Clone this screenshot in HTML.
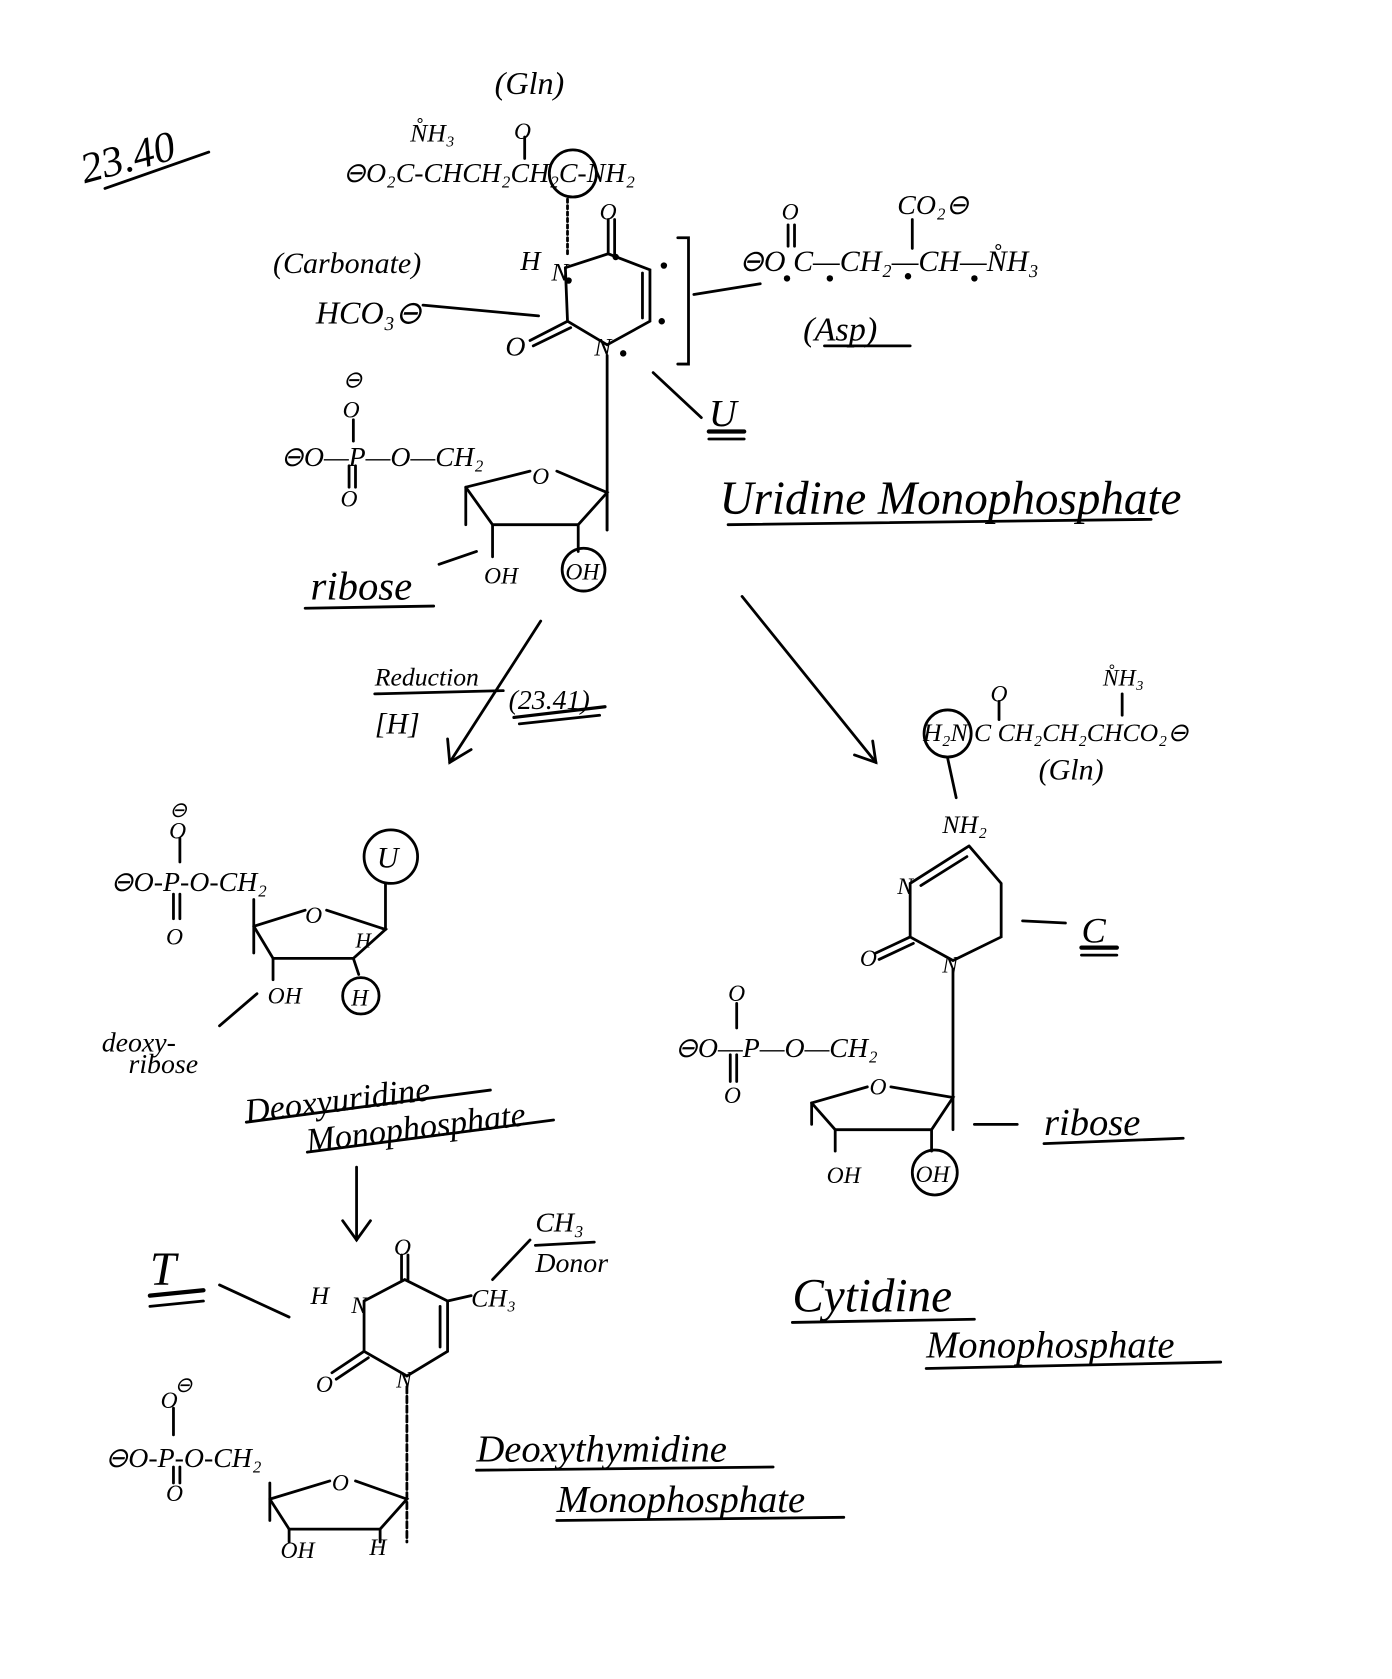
<!DOCTYPE html>
<html><head><meta charset="utf-8"><style>
html,body{margin:0;padding:0;background:#fff}
svg{display:block}
text{font-family:"Liberation Serif",serif;font-style:italic;fill:#000}
</style></head><body>
<svg width="1392" height="1679" viewBox="0 0 1300 1568" preserveAspectRatio="none" xmlns="http://www.w3.org/2000/svg">
<g stroke="#000" stroke-width="2.6" fill="none" stroke-linecap="round">
<!-- 23.40 -->
<line x1="98" y1="176" x2="195" y2="142"/>
<!-- Gln top -->
<line x1="490" y1="128" x2="490" y2="148"/>
<circle cx="535" cy="162" r="22"/>
<line x1="530" y1="186" x2="530" y2="240" stroke-dasharray="3,3"/>
<!-- uracil ring -->
<polyline points="528,250 568,237 607,252 607,300 567,322 530,300 528,250"/>
<line x1="600" y1="255" x2="600" y2="297"/>
<line x1="568" y1="237" x2="568" y2="205"/><line x1="574" y1="237" x2="574" y2="205"/>
<line x1="530" y1="300" x2="495" y2="318"/><line x1="533" y1="306" x2="498" y2="323"/>
<polyline points="633,222 643,222 643,340 633,340"/>
<line x1="648" y1="275" x2="710" y2="265"/>
<line x1="395" y1="285" x2="503" y2="295"/>
<line x1="567" y1="332" x2="567" y2="495"/>
<line x1="610" y1="348" x2="655" y2="390"/>
<line x1="662" y1="403" x2="695" y2="403" stroke-width="4"/><line x1="662" y1="410" x2="695" y2="410"/>
<!-- Asp -->
<line x1="736" y1="210" x2="736" y2="230"/><line x1="742" y1="210" x2="742" y2="230"/>
<line x1="852" y1="205" x2="852" y2="232"/>
<line x1="770" y1="323" x2="850" y2="323"/>
<!-- phosphate 1 -->
<line x1="330" y1="392" x2="330" y2="412"/>
<line x1="326" y1="435" x2="326" y2="455"/><line x1="332" y1="435" x2="332" y2="455"/>
<!-- ribose 1 -->
<polyline points="435,455 495,440"/><polyline points="520,440 567,460 540,490 460,490 435,455"/>
<line x1="435" y1="455" x2="435" y2="490"/>
<line x1="460" y1="490" x2="460" y2="520"/>
<line x1="540" y1="490" x2="540" y2="515"/>
<line x1="567" y1="460" x2="567" y2="495"/>
<circle cx="545" cy="532" r="20"/>
<line x1="285" y1="568" x2="405" y2="566"/>
<line x1="410" y1="527" x2="445" y2="515"/>
<line x1="680" y1="490" x2="1075" y2="485"/>
<!-- arrows -->
<line x1="505" y1="580" x2="420" y2="712"/><polyline points="418,690 420,712 440,700"/>
<line x1="693" y1="557" x2="818" y2="712"/><polyline points="798,705 818,712 815,692"/>
<line x1="350" y1="648" x2="470" y2="645"/>
<line x1="480" y1="670" x2="565" y2="660" stroke-width="3"/><line x1="485" y1="676" x2="560" y2="668"/>
<!-- right Gln -->
<circle cx="885" cy="685" r="22"/>
<line x1="933" y1="655" x2="933" y2="672"/>
<line x1="1048" y1="648" x2="1048" y2="668"/>
<line x1="885" y1="708" x2="893" y2="745"/>
<!-- cytosine -->
<polyline points="905,790 935,825 935,875 890,897 850,875 850,825 905,790"/>
<line x1="860" y1="827" x2="903" y2="800"/>
<line x1="850" y1="875" x2="818" y2="890"/><line x1="853" y1="881" x2="821" y2="896"/>
<line x1="955" y1="860" x2="995" y2="862"/>
<line x1="1010" y1="885" x2="1043" y2="885" stroke-width="4"/><line x1="1010" y1="892" x2="1043" y2="892"/>
<line x1="890" y1="905" x2="890" y2="1025"/>
<!-- phosphate 2 -->
<line x1="688" y1="937" x2="688" y2="960"/>
<line x1="682" y1="985" x2="682" y2="1010"/><line x1="688" y1="985" x2="688" y2="1010"/>
<polyline points="758,1030 810,1015"/><polyline points="832,1015 890,1025 870,1055 780,1055 758,1030"/>
<line x1="758" y1="1030" x2="758" y2="1050"/><line x1="780" y1="1055" x2="780" y2="1075"/>
<line x1="870" y1="1055" x2="870" y2="1075"/><line x1="890" y1="1025" x2="890" y2="1055"/>
<circle cx="873" cy="1095" r="21"/>
<line x1="910" y1="1050" x2="950" y2="1050"/>
<line x1="975" y1="1068" x2="1105" y2="1063"/>
<line x1="740" y1="1235" x2="910" y2="1232"/>
<line x1="865" y1="1278" x2="1140" y2="1272"/>
<!-- left middle -->
<line x1="168" y1="783" x2="168" y2="805"/>
<line x1="162" y1="835" x2="162" y2="858"/><line x1="168" y1="835" x2="168" y2="858"/>
<circle cx="365" cy="800" r="25"/>
<line x1="360" y1="825" x2="360" y2="868"/>
<polyline points="237,865 285,850"/><polyline points="305,850 360,868 330,895 255,895 237,865"/>
<line x1="237" y1="840" x2="237" y2="890"/>
<line x1="255" y1="895" x2="255" y2="915"/><line x1="330" y1="895" x2="335" y2="910"/>
<circle cx="337" cy="930" r="17"/>
<line x1="205" y1="958" x2="240" y2="928"/>
<line x1="230" y1="1048" x2="458" y2="1018"/>
<line x1="287" y1="1076" x2="517" y2="1046"/>
<line x1="333" y1="1090" x2="333" y2="1158"/><polyline points="320,1140 333,1158 346,1140"/>
<!-- T -->
<line x1="140" y1="1210" x2="190" y2="1205" stroke-width="4"/><line x1="140" y1="1220" x2="190" y2="1215"/>
<line x1="205" y1="1200" x2="270" y2="1230"/>
<!-- thymine -->
<polyline points="340,1215 378,1195 418,1215 418,1262 380,1285 340,1262 340,1215"/>
<line x1="411" y1="1220" x2="411" y2="1258"/>
<line x1="375" y1="1195" x2="375" y2="1172"/><line x1="381" y1="1195" x2="381" y2="1172"/>
<line x1="418" y1="1215" x2="440" y2="1210"/>
<line x1="340" y1="1262" x2="310" y2="1282"/><line x1="344" y1="1268" x2="314" y2="1288"/>
<line x1="460" y1="1195" x2="495" y2="1158"/>
<line x1="500" y1="1163" x2="555" y2="1160"/>
<line x1="380" y1="1295" x2="380" y2="1440" stroke-dasharray="6,3"/>
<!-- phosphate 4 -->
<line x1="162" y1="1315" x2="162" y2="1340"/>
<line x1="162" y1="1370" x2="162" y2="1385"/><line x1="168" y1="1370" x2="168" y2="1385"/>
<polyline points="252,1400 308,1383"/><polyline points="332,1383 380,1400 355,1428 270,1428 252,1400"/>
<line x1="252" y1="1385" x2="252" y2="1420"/><line x1="270" y1="1428" x2="270" y2="1440"/><line x1="355" y1="1428" x2="355" y2="1440"/>
<line x1="445" y1="1373" x2="722" y2="1370"/>
<line x1="520" y1="1420" x2="788" y2="1417"/>
</g>
<g font-size="28">
<text x="75" y="160" font-size="40" transform="rotate(-15 120 150)">23.40</text>
<text x="462" y="88" font-size="30">(Gln)</text>
<text x="383" y="132" font-size="24">N̊H₃</text>
<text x="480" y="130" font-size="22">O</text>
<text x="320" y="170" font-size="26">⊖O₂C-CHCH₂CH₂C-NH₂</text>
<text x="560" y="205" font-size="22">O</text>
<text x="486" y="252" font-size="26">H</text>
<text x="515" y="262" font-size="24">N</text>
<text x="555" y="332" font-size="24">N</text>
<text x="472" y="332" font-size="26">O</text>
<text x="255" y="255" font-size="28">(Carbonate)</text>
<text x="295" y="302" font-size="30">HCO₃⊖</text>
<text x="730" y="205" font-size="22">O</text>
<text x="838" y="200" font-size="26">CO₂⊖</text>
<text x="690" y="253" font-size="28">⊖O C—CH₂—CH—N̊H₃</text>
<text x="750" y="318" font-size="32">(Asp)</text>
<text x="662" y="398" font-size="36">U</text>
<text x="320" y="362" font-size="22">⊖</text>
<text x="320" y="390" font-size="22">O</text>
<text x="262" y="435" font-size="26">⊖O—P—O—CH₂</text>
<text x="318" y="473" font-size="22">O</text>
<text x="497" y="452" font-size="22">O</text>
<text x="452" y="545" font-size="22">OH</text>
<text x="528" y="541" font-size="22">OH</text>
<text x="290" y="560" font-size="38">ribose</text>
<text x="672" y="480" font-size="44">Uridine Monophosphate</text>
<text x="350" y="640" font-size="24">Reduction</text>
<text x="350" y="685" font-size="28">[H]</text>
<text x="475" y="662" font-size="26">(23.41)</text>
<text x="1030" y="640" font-size="22">N̊H₃</text>
<text x="925" y="655" font-size="22">O</text>
<text x="862" y="692" font-size="24">H₂N C CH₂CH₂CHCO₂⊖</text>
<text x="970" y="728" font-size="28">(Gln)</text>
<text x="880" y="778" font-size="24">NH₂</text>
<text x="838" y="835" font-size="22">N</text>
<text x="880" y="908" font-size="22">N</text>
<text x="803" y="902" font-size="22">O</text>
<text x="1010" y="880" font-size="34">C</text>
<text x="680" y="935" font-size="22">O</text>
<text x="630" y="987" font-size="26">⊖O—P—O—CH₂</text>
<text x="676" y="1030" font-size="22">O</text>
<text x="812" y="1022" font-size="22">O</text>
<text x="772" y="1105" font-size="22">OH</text>
<text x="855" y="1104" font-size="22">OH</text>
<text x="975" y="1060" font-size="36">ribose</text>
<text x="740" y="1225" font-size="44">Cytidine</text>
<text x="865" y="1268" font-size="36">Monophosphate</text>
<text x="158" y="763" font-size="20">⊖</text>
<text x="158" y="783" font-size="22">O</text>
<text x="103" y="832" font-size="26">⊖O-P-O-CH₂</text>
<text x="155" y="882" font-size="22">O</text>
<text x="352" y="810" font-size="28">U</text>
<text x="285" y="862" font-size="22">O</text>
<text x="250" y="937" font-size="22">OH</text>
<text x="328" y="939" font-size="22">H</text>
<text x="332" y="885" font-size="20">H</text>
<text x="95" y="982" font-size="26">deoxy-</text>
<text x="120" y="1002" font-size="26">ribose</text>
<text x="228" y="1035" font-size="32" transform="rotate(-7 340 1025)">Deoxyuridine</text>
<text x="285" y="1062" font-size="32" transform="rotate(-7 400 1050)">Monophosphate</text>
<text x="140" y="1200" font-size="44">T</text>
<text x="368" y="1172" font-size="22">O</text>
<text x="290" y="1218" font-size="24">H</text>
<text x="328" y="1226" font-size="22">N</text>
<text x="440" y="1220" font-size="24">CH₃</text>
<text x="500" y="1150" font-size="26">CH₃</text>
<text x="500" y="1188" font-size="26">Donor</text>
<text x="370" y="1296" font-size="22">N</text>
<text x="295" y="1300" font-size="22">O</text>
<text x="163" y="1300" font-size="20">⊖</text>
<text x="150" y="1315" font-size="22">O</text>
<text x="98" y="1370" font-size="26">⊖O-P-O-CH₂</text>
<text x="155" y="1402" font-size="22">O</text>
<text x="310" y="1392" font-size="22">O</text>
<text x="262" y="1455" font-size="22">OH</text>
<text x="345" y="1452" font-size="22">H</text>
<text x="445" y="1365" font-size="36">Deoxythymidine</text>
<text x="520" y="1412" font-size="36">Monophosphate</text>
</g>
<g fill="#000">
<circle cx="575" cy="240" r="3"/><circle cx="620" cy="248" r="3"/><circle cx="618" cy="300" r="3"/><circle cx="582" cy="330" r="3"/><circle cx="531" cy="262" r="3"/>
<circle cx="735" cy="260" r="3"/><circle cx="775" cy="260" r="3"/><circle cx="848" cy="258" r="3"/><circle cx="910" cy="260" r="3"/>
</g>
</svg>
</body></html>
